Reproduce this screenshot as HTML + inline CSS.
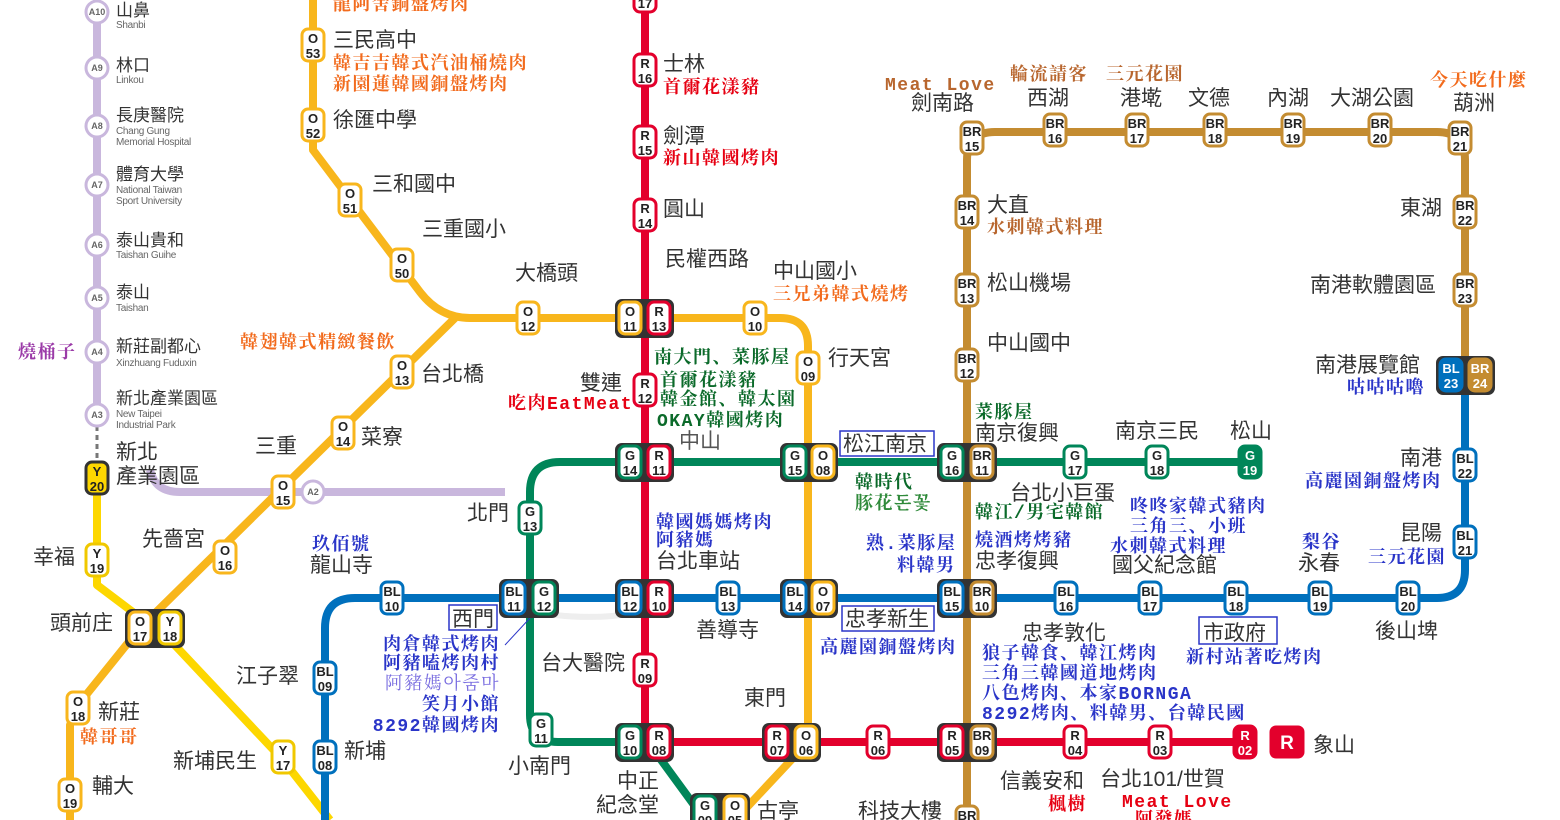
<!DOCTYPE html>
<html><head><meta charset="utf-8"><style>
body{margin:0;background:#fff}
svg{display:block}
.ln{fill:none;stroke-width:8;stroke-linejoin:round;stroke-linecap:butt}
.b rect{fill:#fff;stroke-width:3}
.b text{font:bold 13px "Liberation Sans",sans-serif;text-anchor:middle;fill:#222}
.r rect{stroke:#e3002c}.o rect{stroke:#f8b61c}.g rect{stroke:#008659}.bl rect{stroke:#0070bd}.br rect{stroke:#c48c31}.y rect{stroke:#f0c800}
.t{font:21px "Liberation Sans","Noto Sans CJK TC",sans-serif;fill:#333}
.e{font:10px "Liberation Sans",sans-serif;fill:#666;letter-spacing:-0.3px}
.f{font:bold 18px "Liberation Mono","Noto Serif CJK SC",serif;letter-spacing:1.5px}
.OR{fill:#f26b1d}.RD{fill:#e60012}.GR{fill:#0b6a2a}.BU{fill:#2a35c8}.BN{fill:#b8662e}.PU{fill:#9b3ba8}
.a circle{fill:#fff;stroke:#c9b7dd;stroke-width:3}
.a text{font:bold 9px "Liberation Sans",sans-serif;fill:#666;text-anchor:middle}
.x{fill:#333}
</style></head><body>
<svg width="1560" height="820" viewBox="0 0 1560 820" xmlns="http://www.w3.org/2000/svg">
<path class="ln" stroke="#c9b7dd" d="M97,0 V420"/>
<path class="ln" stroke="#c9b7dd" d="M150,470 Q155,492 180,492 H505"/>
<path d="M97,426 V464" stroke="#777" stroke-width="3" stroke-dasharray="5,4"/>
<path class="ln" stroke="#fdd700" d="M97,478 V585 L170,640 L283,760 L330,820"/>
<path class="ln" stroke="#f8b61c" d="M313,0 V150 L420,292 Q440,318 470,318 H780 Q808,318 808,346 V742 L735,820"/>
<path class="ln" stroke="#f8b61c" d="M455,318 L140,628 L78,705 L70,725 V820"/>
<path class="ln" stroke="#e3002c" d="M645,0 V742 H1245"/>
<path class="ln" stroke="#008659" d="M1250,462 H560 Q530,462 530,492 V715 Q530,742 558,742 H648 L705,820"/>
<path class="ln" stroke="#0070bd" d="M1465,375 V570 Q1465,598 1437,598 H355 Q325,598 325,628 V820"/>
<path class="ln" stroke="#c48c31" d="M967,820 V160 Q967,132 995,132 H1437 Q1465,132 1465,160 V375"/>
<path d="M555,615 Q600,620 640,612" stroke="#eee" stroke-width="6" fill="none"/>
<path d="M505,645 L530,618" stroke="#2a35c8" stroke-width="1"/>
<g class="a">
<g transform="translate(97,12)"><circle r="11"/><text y="3">A10</text></g>
<g transform="translate(97,68)"><circle r="11"/><text y="3">A9</text></g>
<g transform="translate(97,126)"><circle r="11"/><text y="3">A8</text></g>
<g transform="translate(97,185)"><circle r="11"/><text y="3">A7</text></g>
<g transform="translate(97,245)"><circle r="11"/><text y="3">A6</text></g>
<g transform="translate(97,298)"><circle r="11"/><text y="3">A5</text></g>
<g transform="translate(97,352)"><circle r="11"/><text y="3">A4</text></g>
<g transform="translate(97,415)"><circle r="11"/><text y="3">A3</text></g>
<g transform="translate(313,492)"><circle r="11"/><text y="3">A2</text></g>
</g>
<g class="x">
<rect x="615" y="299" width="59" height="39" rx="7"/>
<rect x="615" y="443" width="59" height="39" rx="7"/>
<rect x="780" y="443" width="58" height="39" rx="7"/>
<rect x="937" y="443" width="60" height="39" rx="7"/>
<rect x="499" y="579" width="60" height="39" rx="7"/>
<rect x="615" y="579" width="59" height="39" rx="7"/>
<rect x="780" y="579" width="58" height="39" rx="7"/>
<rect x="937" y="579" width="60" height="39" rx="7"/>
<rect x="615" y="723" width="59" height="39" rx="7"/>
<rect x="762" y="723" width="59" height="39" rx="7"/>
<rect x="937" y="723" width="60" height="39" rx="7"/>
<rect x="690" y="793" width="60" height="39" rx="7"/>
<rect x="125" y="609" width="60" height="39" rx="7"/>
<rect x="1436" y="356" width="59" height="39" rx="7"/>
</g>
<g class="b">
<g class="o" transform="translate(313,45)"><rect x="-11" y="-16" width="22" height="32" rx="6"/><text y="-2">O</text><text y="13">53</text></g>
<g class="o" transform="translate(313,125)"><rect x="-11" y="-16" width="22" height="32" rx="6"/><text y="-2">O</text><text y="13">52</text></g>
<g class="o" transform="translate(350,200)"><rect x="-11" y="-16" width="22" height="32" rx="6"/><text y="-2">O</text><text y="13">51</text></g>
<g class="o" transform="translate(402,265)"><rect x="-11" y="-16" width="22" height="32" rx="6"/><text y="-2">O</text><text y="13">50</text></g>
<g class="o" transform="translate(528,318)"><rect x="-11" y="-16" width="22" height="32" rx="6"/><text y="-2">O</text><text y="13">12</text></g>
<g class="o" transform="translate(630,318)"><rect x="-11" y="-16" width="22" height="32" rx="6"/><text y="-2">O</text><text y="13">11</text></g>
<g class="r" transform="translate(659,318)"><rect x="-11" y="-16" width="22" height="32" rx="6"/><text y="-2">R</text><text y="13">13</text></g>
<g class="o" transform="translate(755,318)"><rect x="-11" y="-16" width="22" height="32" rx="6"/><text y="-2">O</text><text y="13">10</text></g>
<g class="o" transform="translate(808,368)"><rect x="-11" y="-16" width="22" height="32" rx="6"/><text y="-2">O</text><text y="13">09</text></g>
<g class="g" transform="translate(795,462)"><rect x="-11" y="-16" width="22" height="32" rx="6"/><text y="-2">G</text><text y="13">15</text></g>
<g class="o" transform="translate(823,462)"><rect x="-11" y="-16" width="22" height="32" rx="6"/><text y="-2">O</text><text y="13">08</text></g>
<g class="bl" transform="translate(795,598)"><rect x="-11" y="-16" width="22" height="32" rx="6"/><text y="-2">BL</text><text y="13">14</text></g>
<g class="o" transform="translate(823,598)"><rect x="-11" y="-16" width="22" height="32" rx="6"/><text y="-2">O</text><text y="13">07</text></g>
<g class="r" transform="translate(777,742)"><rect x="-11" y="-16" width="22" height="32" rx="6"/><text y="-2">R</text><text y="13">07</text></g>
<g class="o" transform="translate(806,742)"><rect x="-11" y="-16" width="22" height="32" rx="6"/><text y="-2">O</text><text y="13">06</text></g>
<g class="g" transform="translate(705,812)"><rect x="-11" y="-16" width="22" height="32" rx="6"/><text y="-2">G</text><text y="13">09</text></g>
<g class="o" transform="translate(735,812)"><rect x="-11" y="-16" width="22" height="32" rx="6"/><text y="-2">O</text><text y="13">05</text></g>
<g class="o" transform="translate(402,372)"><rect x="-11" y="-16" width="22" height="32" rx="6"/><text y="-2">O</text><text y="13">13</text></g>
<g class="o" transform="translate(343,433)"><rect x="-11" y="-16" width="22" height="32" rx="6"/><text y="-2">O</text><text y="13">14</text></g>
<g class="o" transform="translate(283,492)"><rect x="-11" y="-16" width="22" height="32" rx="6"/><text y="-2">O</text><text y="13">15</text></g>
<g class="o" transform="translate(225,557)"><rect x="-11" y="-16" width="22" height="32" rx="6"/><text y="-2">O</text><text y="13">16</text></g>
<g class="o" transform="translate(140,628)"><rect x="-11" y="-16" width="22" height="32" rx="6"/><text y="-2">O</text><text y="13">17</text></g>
<g class="y" transform="translate(170,628)"><rect x="-11" y="-16" width="22" height="32" rx="6"/><text y="-2">Y</text><text y="13">18</text></g>
<g class="o" transform="translate(78,708)"><rect x="-11" y="-16" width="22" height="32" rx="6"/><text y="-2">O</text><text y="13">18</text></g>
<g class="o" transform="translate(70,795)"><rect x="-11" y="-16" width="22" height="32" rx="6"/><text y="-2">O</text><text y="13">19</text></g>
<g class="y" transform="translate(97,478)"><rect x="-11" y="-16" width="22" height="32" rx="6" style="fill:#fdd700;stroke:#333"/><text y="-2">Y</text><text y="13">20</text></g>
<g class="y" transform="translate(97,560)"><rect x="-11" y="-16" width="22" height="32" rx="6"/><text y="-2">Y</text><text y="13">19</text></g>
<g class="y" transform="translate(283,757)"><rect x="-11" y="-16" width="22" height="32" rx="6"/><text y="-2">Y</text><text y="13">17</text></g>
<g class="r" transform="translate(645,0)"><rect x="-11" y="-16" width="22" height="28" rx="6"/><text y="8">17</text></g>
<g class="r" transform="translate(645,70)"><rect x="-11" y="-16" width="22" height="32" rx="6"/><text y="-2">R</text><text y="13">16</text></g>
<g class="r" transform="translate(645,142)"><rect x="-11" y="-16" width="22" height="32" rx="6"/><text y="-2">R</text><text y="13">15</text></g>
<g class="r" transform="translate(645,215)"><rect x="-11" y="-16" width="22" height="32" rx="6"/><text y="-2">R</text><text y="13">14</text></g>
<g class="r" transform="translate(645,390)"><rect x="-11" y="-16" width="22" height="32" rx="6"/><text y="-2">R</text><text y="13">12</text></g>
<g class="g" transform="translate(630,462)"><rect x="-11" y="-16" width="22" height="32" rx="6"/><text y="-2">G</text><text y="13">14</text></g>
<g class="r" transform="translate(659,462)"><rect x="-11" y="-16" width="22" height="32" rx="6"/><text y="-2">R</text><text y="13">11</text></g>
<g class="bl" transform="translate(630,598)"><rect x="-11" y="-16" width="22" height="32" rx="6"/><text y="-2">BL</text><text y="13">12</text></g>
<g class="r" transform="translate(659,598)"><rect x="-11" y="-16" width="22" height="32" rx="6"/><text y="-2">R</text><text y="13">10</text></g>
<g class="r" transform="translate(645,670)"><rect x="-11" y="-16" width="22" height="32" rx="6"/><text y="-2">R</text><text y="13">09</text></g>
<g class="g" transform="translate(630,742)"><rect x="-11" y="-16" width="22" height="32" rx="6"/><text y="-2">G</text><text y="13">10</text></g>
<g class="r" transform="translate(659,742)"><rect x="-11" y="-16" width="22" height="32" rx="6"/><text y="-2">R</text><text y="13">08</text></g>
<g class="r" transform="translate(878,742)"><rect x="-11" y="-16" width="22" height="32" rx="6"/><text y="-2">R</text><text y="13">06</text></g>
<g class="r" transform="translate(952,742)"><rect x="-11" y="-16" width="22" height="32" rx="6"/><text y="-2">R</text><text y="13">05</text></g>
<g class="br" transform="translate(982,742)"><rect x="-11" y="-16" width="22" height="32" rx="6"/><text y="-2">BR</text><text y="13">09</text></g>
<g class="r" transform="translate(1075,742)"><rect x="-11" y="-16" width="22" height="32" rx="6"/><text y="-2">R</text><text y="13">04</text></g>
<g class="r" transform="translate(1160,742)"><rect x="-11" y="-16" width="22" height="32" rx="6"/><text y="-2">R</text><text y="13">03</text></g>
<g class="r" transform="translate(1245,742)"><rect x="-11" y="-16" width="22" height="32" rx="6" style="fill:#e3002c"/><text y="-2" style="fill:#fff">R</text><text y="13" style="fill:#fff">02</text></g>
<g transform="translate(1287,742)"><rect x="-16" y="-15" width="32" height="30" rx="5" style="fill:#e3002c;stroke:#e3002c"/><text y="7" style="fill:#fff;font-size:19px">R</text></g>
<g class="g" transform="translate(530,518)"><rect x="-11" y="-16" width="22" height="32" rx="6"/><text y="-2">G</text><text y="13">13</text></g>
<g class="bl" transform="translate(514,598)"><rect x="-11" y="-16" width="22" height="32" rx="6"/><text y="-2">BL</text><text y="13">11</text></g>
<g class="g" transform="translate(544,598)"><rect x="-11" y="-16" width="22" height="32" rx="6"/><text y="-2">G</text><text y="13">12</text></g>
<g class="g" transform="translate(541,730)"><rect x="-11" y="-16" width="22" height="32" rx="6"/><text y="-2">G</text><text y="13">11</text></g>
<g class="g" transform="translate(952,462)"><rect x="-11" y="-16" width="22" height="32" rx="6"/><text y="-2">G</text><text y="13">16</text></g>
<g class="br" transform="translate(982,462)"><rect x="-11" y="-16" width="22" height="32" rx="6"/><text y="-2">BR</text><text y="13">11</text></g>
<g class="g" transform="translate(1075,462)"><rect x="-11" y="-16" width="22" height="32" rx="6"/><text y="-2">G</text><text y="13">17</text></g>
<g class="g" transform="translate(1157,462)"><rect x="-11" y="-16" width="22" height="32" rx="6"/><text y="-2">G</text><text y="13">18</text></g>
<g class="g" transform="translate(1250,462)"><rect x="-11" y="-16" width="22" height="32" rx="6" style="fill:#008659"/><text y="-2" style="fill:#fff">G</text><text y="13" style="fill:#fff">19</text></g>
<g class="bl" transform="translate(392,598)"><rect x="-11" y="-16" width="22" height="32" rx="6"/><text y="-2">BL</text><text y="13">10</text></g>
<g class="bl" transform="translate(325,678)"><rect x="-11" y="-16" width="22" height="32" rx="6"/><text y="-2">BL</text><text y="13">09</text></g>
<g class="bl" transform="translate(325,757)"><rect x="-11" y="-16" width="22" height="32" rx="6"/><text y="-2">BL</text><text y="13">08</text></g>
<g class="bl" transform="translate(728,598)"><rect x="-11" y="-16" width="22" height="32" rx="6"/><text y="-2">BL</text><text y="13">13</text></g>
<g class="bl" transform="translate(952,598)"><rect x="-11" y="-16" width="22" height="32" rx="6"/><text y="-2">BL</text><text y="13">15</text></g>
<g class="br" transform="translate(982,598)"><rect x="-11" y="-16" width="22" height="32" rx="6"/><text y="-2">BR</text><text y="13">10</text></g>
<g class="bl" transform="translate(1066,598)"><rect x="-11" y="-16" width="22" height="32" rx="6"/><text y="-2">BL</text><text y="13">16</text></g>
<g class="bl" transform="translate(1150,598)"><rect x="-11" y="-16" width="22" height="32" rx="6"/><text y="-2">BL</text><text y="13">17</text></g>
<g class="bl" transform="translate(1236,598)"><rect x="-11" y="-16" width="22" height="32" rx="6"/><text y="-2">BL</text><text y="13">18</text></g>
<g class="bl" transform="translate(1320,598)"><rect x="-11" y="-16" width="22" height="32" rx="6"/><text y="-2">BL</text><text y="13">19</text></g>
<g class="bl" transform="translate(1408,598)"><rect x="-11" y="-16" width="22" height="32" rx="6"/><text y="-2">BL</text><text y="13">20</text></g>
<g class="bl" transform="translate(1465,542)"><rect x="-11" y="-16" width="22" height="32" rx="6"/><text y="-2">BL</text><text y="13">21</text></g>
<g class="bl" transform="translate(1465,465)"><rect x="-11" y="-16" width="22" height="32" rx="6"/><text y="-2">BL</text><text y="13">22</text></g>
<g class="bl" transform="translate(1451,375)"><rect x="-11" y="-16" width="22" height="32" rx="6" style="fill:#0070bd"/><text y="-2" style="fill:#fff">BL</text><text y="13" style="fill:#fff">23</text></g>
<g class="br" transform="translate(1480,375)"><rect x="-11" y="-16" width="22" height="32" rx="6" style="fill:#c48c31"/><text y="-2" style="fill:#fff">BR</text><text y="13" style="fill:#fff">24</text></g>
<g class="br" transform="translate(972,138)"><rect x="-11" y="-16" width="22" height="32" rx="6"/><text y="-2">BR</text><text y="13">15</text></g>
<g class="br" transform="translate(1055,130)"><rect x="-11" y="-16" width="22" height="32" rx="6"/><text y="-2">BR</text><text y="13">16</text></g>
<g class="br" transform="translate(1137,130)"><rect x="-11" y="-16" width="22" height="32" rx="6"/><text y="-2">BR</text><text y="13">17</text></g>
<g class="br" transform="translate(1215,130)"><rect x="-11" y="-16" width="22" height="32" rx="6"/><text y="-2">BR</text><text y="13">18</text></g>
<g class="br" transform="translate(1293,130)"><rect x="-11" y="-16" width="22" height="32" rx="6"/><text y="-2">BR</text><text y="13">19</text></g>
<g class="br" transform="translate(1380,130)"><rect x="-11" y="-16" width="22" height="32" rx="6"/><text y="-2">BR</text><text y="13">20</text></g>
<g class="br" transform="translate(1460,138)"><rect x="-11" y="-16" width="22" height="32" rx="6"/><text y="-2">BR</text><text y="13">21</text></g>
<g class="br" transform="translate(1465,212)"><rect x="-11" y="-16" width="22" height="32" rx="6"/><text y="-2">BR</text><text y="13">22</text></g>
<g class="br" transform="translate(1465,290)"><rect x="-11" y="-16" width="22" height="32" rx="6"/><text y="-2">BR</text><text y="13">23</text></g>
<g class="br" transform="translate(967,212)"><rect x="-11" y="-16" width="22" height="32" rx="6"/><text y="-2">BR</text><text y="13">14</text></g>
<g class="br" transform="translate(967,290)"><rect x="-11" y="-16" width="22" height="32" rx="6"/><text y="-2">BR</text><text y="13">13</text></g>
<g class="br" transform="translate(967,365)"><rect x="-11" y="-16" width="22" height="32" rx="6"/><text y="-2">BR</text><text y="13">12</text></g>
<g class="br" transform="translate(967,822)"><rect x="-11" y="-16" width="22" height="32" rx="6"/><text y="-2">BR</text></g>
</g>
<g fill="none" stroke="#2a35c8" stroke-width="1.5">
<rect x="449" y="605" width="48" height="25"/>
<rect x="840" y="431" width="94" height="25"/>
<rect x="842" y="606" width="92" height="25"/>
<rect x="1199" y="617" width="78" height="27"/>
</g>
<text class="t" x="116" y="16" style="font-size:17px">山鼻</text><text class="e" x="116" y="28">Shanbi</text>
<text class="t" x="116" y="71" style="font-size:17px">林口</text><text class="e" x="116" y="83">Linkou</text>
<text class="t" x="116" y="121" style="font-size:17px">長庚醫院</text><text class="e" x="116" y="134">Chang Gung</text><text class="e" x="116" y="145">Memorial Hospital</text>
<text class="t" x="116" y="180" style="font-size:17px">體育大學</text><text class="e" x="116" y="193">National Taiwan</text><text class="e" x="116" y="204">Sport University</text>
<text class="t" x="116" y="246" style="font-size:17px">泰山貴和</text><text class="e" x="116" y="258">Taishan Guihe</text>
<text class="t" x="116" y="298" style="font-size:17px">泰山</text><text class="e" x="116" y="311">Taishan</text>
<text class="t" x="116" y="352" style="font-size:17px">新莊副都心</text><text class="e" x="116" y="366">Xinzhuang Fuduxin</text>
<text class="t" x="116" y="404" style="font-size:17px">新北產業園區</text><text class="e" x="116" y="417">New Taipei</text><text class="e" x="116" y="428">Industrial Park</text>
<text class="f PU" x="18" y="358">燒桶子</text>
<g class="t">
<text x="116" y="459">新北</text><text x="116" y="483">產業園區</text>
<text x="255" y="453">三重</text>
<text x="142" y="546">先嗇宮</text>
<text x="33" y="564">幸福</text>
<text x="50" y="630">頭前庄</text>
<text x="236" y="683">江子翠</text>
<text x="98" y="719">新莊</text>
<text x="92" y="793">輔大</text>
<text x="173" y="768">新埔民生</text>
<text x="344" y="758">新埔</text>
<text x="310" y="572">龍山寺</text>
<text x="452" y="626">西門</text>
<text x="467" y="520">北門</text>
<text x="541" y="670">台大醫院</text>
<text x="508" y="773">小南門</text>
<text x="617" y="788">中正</text><text x="596" y="812">紀念堂</text>
<text x="757" y="818">古亭</text>
<text x="858" y="818">科技大樓</text>
<text x="744" y="705">東門</text>
<text x="696" y="637">善導寺</text>
<text x="656" y="568">台北車站</text>
<text x="679" y="448" style="fill:#555">中山</text>
<text x="580" y="390">雙連</text>
<text x="515" y="280">大橋頭</text>
<text x="665" y="266">民權西路</text>
<text x="773" y="278">中山國小</text>
<text x="828" y="365">行天宮</text>
<text x="421" y="381">台北橋</text>
<text x="361" y="444">菜寮</text>
<text x="372" y="191">三和國中</text>
<text x="422" y="236">三重國小</text>
<text x="333" y="47">三民高中</text>
<text x="333" y="127">徐匯中學</text>
<text x="663" y="71">士林</text>
<text x="663" y="143">劍潭</text>
<text x="663" y="216">圓山</text>
<text x="843" y="451">松江南京</text>
<text x="845" y="626">忠孝新生</text>
<text x="975" y="440">南京復興</text>
<text x="1010" y="500">台北小巨蛋</text>
<text x="975" y="568">忠孝復興</text>
<text x="1112" y="572">國父紀念館</text>
<text x="1298" y="570">永春</text>
<text x="1400" y="540">昆陽</text>
<text x="1400" y="465">南港</text>
<text x="1315" y="372">南港展覽館</text>
<text x="1310" y="292">南港軟體園區</text>
<text x="1400" y="215">東湖</text>
<text x="1022" y="640">忠孝敦化</text>
<text x="1203" y="640">市政府</text>
<text x="1375" y="638">後山埤</text>
<text x="1313" y="752">象山</text>
<text x="1000" y="788">信義安和</text>
<text x="1100" y="786">台北101/世賀</text>
<text x="987" y="212">大直</text>
<text x="987" y="290">松山機場</text>
<text x="987" y="350">中山國中</text>
<text x="1115" y="438">南京三民</text>
<text x="1230" y="438">松山</text>
<text x="911" y="110">劍南路</text>
<text x="1027" y="105">西湖</text>
<text x="1120" y="105">港墘</text>
<text x="1188" y="105">文德</text>
<text x="1267" y="105">內湖</text>
<text x="1330" y="105">大湖公園</text>
<text x="1453" y="110">葫洲</text>
</g>
<g class="f">
<text class="OR" x="333" y="10">龍阿舍銅盤烤肉</text>
<text class="OR" x="333" y="69">韓吉吉韓式汽油桶燒肉</text>
<text class="OR" x="333" y="90">新園蓮韓國銅盤烤肉</text>
<text class="OR" x="240" y="348">韓翅韓式精緻餐飲</text>
<text class="OR" x="80" y="743">韓哥哥</text>
<text class="OR" x="773" y="300">三兄弟韓式燒烤</text>
<text class="OR" x="1430" y="86">今天吃什麼</text>
<text class="RD" x="663" y="93">首爾花漾豬</text>
<text class="RD" x="663" y="164">新山韓國烤肉</text>
<text class="RD" x="508" y="409">吃肉EatMeat</text>
<text class="RD" x="1048" y="810">楓樹</text>
<text class="RD" x="1122" y="807">Meat Love</text>
<text class="RD" x="1135" y="825">阿發媽</text>
<text class="GR" x="654" y="363">南大門、菜豚屋</text>
<text class="GR" x="660" y="386">首爾花漾豬</text>
<text class="GR" x="660" y="405">韓金館、韓太園</text>
<text class="GR" x="657" y="426">OKAY韓國烤肉</text>
<text class="GR" x="855" y="488">韓時代</text>
<text class="GR" x="855" y="509" style="fill:#2f8a3a">豚花돈꽃</text>
<text class="GR" x="975" y="418">菜豚屋</text>
<text class="GR" x="975" y="518">韓江/男宅韓館</text>
<text class="BU" x="312" y="550">玖佰號</text>
<text class="BU" x="500" y="650" text-anchor="end">肉倉韓式烤肉</text>
<text class="BU" x="500" y="669" text-anchor="end">阿豬嗑烤肉村</text>
<text class="BU" x="500" y="689" text-anchor="end" style="fill:#7a6ee0;font-weight:normal">阿豬媽아줌마</text>
<text class="BU" x="500" y="710" text-anchor="end">笑月小館</text>
<text class="BU" x="500" y="731" text-anchor="end">8292韓國烤肉</text>
<text class="BU" x="656" y="528">韓國媽媽烤肉</text>
<text class="BU" x="656" y="546">阿豬媽</text>
<text class="BU" x="820" y="653">高麗園銅盤烤肉</text>
<text class="BU" x="866" y="549">熟.菜豚屋</text>
<text class="BU" x="897" y="571">料韓男</text>
<text class="BU" x="975" y="546">燒酒烤烤豬</text>
<text class="BU" x="1130" y="512">咚咚家韓式豬肉</text>
<text class="BU" x="1130" y="532">三角三、小班</text>
<text class="BU" x="1110" y="552">水刺韓式料理</text>
<text class="BU" x="1302" y="548">梨谷</text>
<text class="BU" x="1368" y="563">三元花園</text>
<text class="BU" x="1305" y="487">高麗園銅盤烤肉</text>
<text class="BU" x="1347" y="393">咕咕咕嚕</text>
<text class="BU" x="1186" y="663">新村站著吃烤肉</text>
<text class="BU" x="982" y="659">狼子韓食、韓江烤肉</text>
<text class="BU" x="982" y="679">三角三韓國道地烤肉</text>
<text class="BU" x="982" y="699">八色烤肉、本家BORNGA</text>
<text class="BU" x="982" y="719">8292烤肉、料韓男、台韓民國</text>
<text class="BN" x="987" y="233">水刺韓式料理</text>
<text class="BN" x="885" y="90">Meat Love</text>
<text class="BN" x="1010" y="80">輪流請客</text>
<text class="BN" x="1106" y="80">三元花園</text>
</g>
</svg>
</body></html>
